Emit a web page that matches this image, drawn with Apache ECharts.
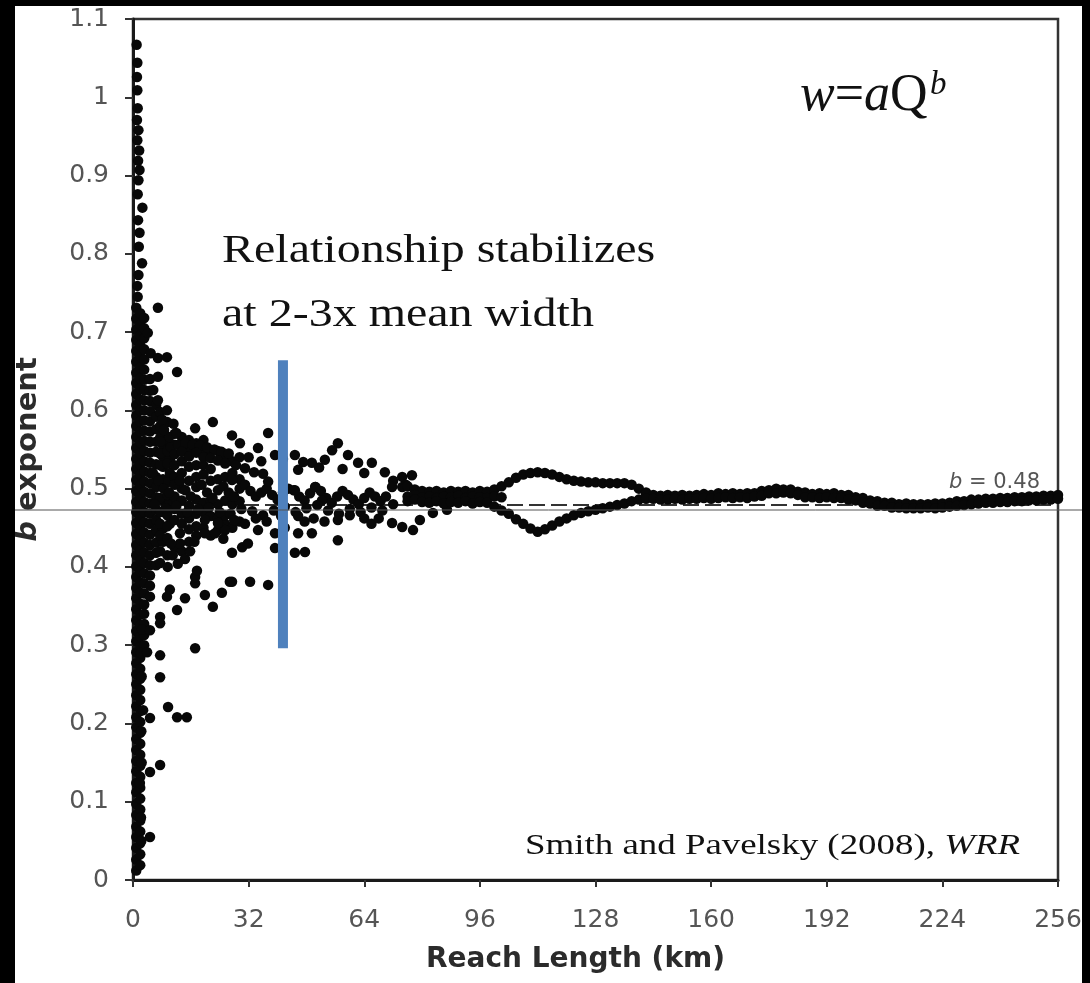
<!DOCTYPE html>
<html>
<head>
<meta charset="utf-8">
<script src="https://cdn.jsdelivr.net/npm/echarts@6/dist/echarts.min.js"></script>
<style>
html,body{margin:0;padding:0;background:#000;}
#chart{width:1090px;height:983px;}
</style>
</head>
<body>
<div id="chart"></div>
<script>
var xTicks = [0, 32, 64, 96, 128, 160, 192, 224, 256];
var yTicks = [0, 0.1, 0.2, 0.3, 0.4, 0.5, 0.6, 0.7, 0.8, 0.9, 1, 1.1];
var bFit = 0.48;
var overlayRule = 0.4727;          // thin grey rule drawn across the slide
var stabilize = {km: 41.5, from: 0.296, to: 0.664};

// the column hugging the y axis (very short reaches)
var spineInnerY = [0.012,0.026,0.041,0.055,0.068,0.083,0.097,0.112,0.124,0.139,0.152,0.166,0.18,0.195,0.208,
  0.222,0.236,0.25,0.263,0.277,0.291,0.305,0.318,0.332,0.346,0.36,0.373,0.387,0.401,0.415,0.428,0.442,0.456,
  0.47,0.483,0.497,0.511,0.525,0.538,0.552,0.566,0.58,0.593,0.607,0.621,0.635,0.648,0.662,0.676,0.69,0.703,
  0.717,0.731];
var spineOuterY = [0.019,0.033,0.047,0.062,0.076,0.09,0.104,0.118,0.132,0.146,0.16,0.174,0.188,0.202,0.216,
  0.23,0.243,0.257,0.27,0.284,0.298,0.311,0.325,0.339,0.353,0.367,0.38,0.394,0.408,0.421,0.435,0.449,0.463,
  0.476,0.49,0.504,0.518,0.531,0.545,0.559,0.573,0.586,0.6,0.614,0.628,0.641,0.655,0.669,0.683,0.696,0.71,0.724];
var spineTop = [
  [1.3,0.745],[1.2,0.759],[1.5,0.773],[2.5,0.788],[1.6,0.809],[1.8,0.827],[1.4,0.843],[2.6,0.859],
  [1.3,0.876],[1.5,0.894],[1.8,0.907],[1.4,0.919],[1.7,0.932],[1.2,0.945],[1.5,0.958],[1.1,0.971],
  [1.3,0.986],[1.2,1.009],[1.1,1.026],[1.2,1.044],[1.0,1.067]
];
var coreA_Y = [0.30,0.313,0.327,0.34,0.352,0.366,0.379,0.392,0.405,0.418,0.431,0.444,0.457,0.47,0.483,0.496,
  0.509,0.522,0.535,0.548,0.561,0.574,0.587,0.60,0.613,0.626,0.639,0.652,0.665,0.678,0.692,0.705,0.718];
var coreB_Y = [0.362,0.376,0.389,0.402,0.415,0.428,0.441,0.455,0.468,0.481,0.494,0.507,0.52,0.533,0.546,0.56,
  0.573,0.586,0.599,0.612,0.625,0.64];
var coreC_Y = [0.402,0.418,0.431,0.447,0.46,0.473,0.489,0.502,0.515,0.531,0.547,0.56,0.576,0.592,0.607];
var coreLoose = [
  [2.3,0.05],[2.2,0.08],[1.9,0.124],[2.4,0.15],[2.3,0.19],[2.8,0.217],[2.4,0.26],[2.2,0.29],[2.5,0.32],
  [8.3,0.432],[8.3,0.449],[8.3,0.47],[8.3,0.485],[8.3,0.512],[8.3,0.528],[8.3,0.541],[8.3,0.556],[8.3,0.571],
  [10.2,0.455],[10.2,0.482],[10.2,0.52],[10.2,0.538]
];
var fanDense = [
  [7.5,0.405],[7.5,0.42],[7.5,0.44],[7.5,0.455],[7.5,0.47],[7.5,0.488],[7.5,0.53],[7.5,0.545],[7.5,0.565],
  [7.5,0.58],[7.5,0.598],[9.5,0.415],[9.5,0.437],[9.5,0.452],[9.5,0.466],[9.5,0.492],[9.5,0.508],[9.5,0.532],
  [9.5,0.548],[9.5,0.562],[9.5,0.585],[11.5,0.425],[11.5,0.46],[11.5,0.474],[11.5,0.49],[11.5,0.515],
  [11.5,0.53],[11.5,0.556],[11.5,0.57],[13.5,0.42],[13.5,0.455],[13.5,0.468],[13.5,0.485],[13.5,0.5],
  [13.5,0.52],[13.5,0.535],[13.5,0.552],[13.5,0.566],[15.5,0.432],[15.5,0.462],[15.5,0.478],[15.5,0.51],
  [15.5,0.528],[15.5,0.552],[15.5,0.562],[17.5,0.44],[17.5,0.452],[17.5,0.468],[17.5,0.486],[17.5,0.515],
  [17.5,0.53],[17.5,0.558],[19.5,0.45],[19.5,0.47],[19.5,0.482],[19.5,0.518],[19.5,0.53],[19.5,0.55],
  [19.5,0.562],[21.5,0.44],[21.5,0.465],[21.5,0.485],[21.5,0.51],[21.5,0.525],[21.5,0.548],[23.5,0.447],
  [23.5,0.462],[23.5,0.48],[23.5,0.512],[23.5,0.548],[25.5,0.455],[25.5,0.466],[25.5,0.485],[25.5,0.515],
  [25.5,0.54],[27.5,0.45],[27.5,0.48],[27.5,0.49],[27.5,0.52],[27.5,0.535],[29.5,0.458],[29.5,0.484],
  [29.5,0.512],[29.5,0.54]
];
var fanUpper = [
  [4.1,0.699],[6.9,0.731],[4.9,0.673],[6.9,0.667],[9.4,0.668],[6.9,0.643],[12.2,0.649],[5.6,0.626],[6.9,0.613],
  [9.4,0.600],[8.1,0.588],[11.2,0.583],[17.2,0.577],[22.1,0.585],[27.4,0.568],[37.4,0.571],[29.6,0.558],[34.6,0.552],
  [39.3,0.543],[44.8,0.543],[56.7,0.558],[55.1,0.549],[59.5,0.543],[62.3,0.533],[66.1,0.533],[69.7,0.521],
  [49.5,0.533],[53.1,0.537],[45.7,0.524],[74.5,0.515],[77.2,0.517],[47.1,0.534],[41.5,0.538],[51.5,0.527],
  [10.5,0.553],[12.5,0.556],[14.5,0.558],[16.5,0.556],[18.5,0.555],[20.5,0.553],[22.5,0.550],[24.5,0.547],
  [26.5,0.545],[11.5,0.544],[13.5,0.547],[15.5,0.541],[17.5,0.546],[19.5,0.540],[21.5,0.539],[23.5,0.536],
  [25.5,0.532],[28.5,0.530],[31.0,0.526],[33.5,0.521],[36.0,0.519],[10.0,0.566],[12.0,0.571],[8.6,0.575],
  [7.6,0.560],[32.0,0.540],[35.5,0.535],[58.0,0.525],[64.0,0.520],[72.0,0.510],[75.5,0.505]
];
var fanMid = [
  [5.5,0.52],[7,0.51],[8.5,0.50],[10,0.495],[11.5,0.505],[13,0.51],[14.5,0.498],[16,0.49],[17.5,0.502],[19,0.505],
  [20.5,0.495],[22,0.488],[23.5,0.498],[25,0.503],[26.5,0.495],[28,0.49],[29.5,0.5],[31,0.505],[32.5,0.497],
  [34,0.49],[35.5,0.495],[37,0.5],[38.5,0.492],[40,0.486],[41.5,0.495],[43,0.5],[44.5,0.498],[46,0.49],
  [47.5,0.485],[49,0.494],[50.5,0.502],[52,0.497],[53.5,0.488],[55,0.482],[56.5,0.49],[58,0.497],[59.5,0.492],
  [61,0.486],[62.5,0.48],[64,0.488],[65.5,0.495],[67,0.49],[68.5,0.484],[70,0.49],[71.7,0.502],[74.5,0.502],
  [27.4,0.511],[37.4,0.509],[44.8,0.498],[50.4,0.502],[52.3,0.485],
  [6,0.48],[9,0.475],[12,0.478],[15,0.47],[18,0.474],[21,0.476],[24,0.47],[27,0.468],[30,0.474],[33,0.471],
  [36,0.466],[39,0.472],[42,0.477],[45,0.47],[48,0.475],[51,0.479],[54,0.472],[57,0.468],[60,0.474],[63,0.47],
  [66,0.476],[69,0.472],[72,0.48]
];
var fanLower = [
  [45.7,0.465],[47.5,0.458],[50,0.462],[53,0.458],[56.7,0.46],[60,0.466],[64,0.462],[56.7,0.434],[71.7,0.456],
  [74.5,0.451],[77.5,0.447],[79.4,0.46],[83,0.469],[86.9,0.473],[49.5,0.443],[45.7,0.443],[39.3,0.443],
  [34.6,0.447],[39.3,0.424],[44.8,0.418],[47.6,0.419],[27.4,0.418],[30.2,0.425],[31.8,0.43],[27.4,0.381],
  [32.4,0.381],[37.4,0.377],[24.6,0.367],[19.9,0.364],[22.1,0.349],[14.4,0.360],[12.2,0.345],[17.2,0.379],
  [17.2,0.387],[14.4,0.41],[12.4,0.404],[9.6,0.40],[19.9,0.443],[22.7,0.443],[25.5,0.447],[19.9,0.46],
  [23.5,0.456],[25,0.436],[13,0.443],[13,0.43],[15.8,0.42],[17.7,0.395],[26.8,0.381],[9.4,0.362],[10.2,0.371],
  [7.5,0.336],[7.5,0.328],[4.7,0.319],[17.2,0.296],[3.9,0.291],[7.5,0.287],[7.5,0.259],[9.7,0.221],[12.2,0.208],
  [14.9,0.208],[4.7,0.207],[7.5,0.147],[4.7,0.138],[4.7,0.055],[28,0.46],[31,0.455],[34,0.462],[37,0.458],
  [41,0.465],[42,0.45],[66,0.455],[68,0.462],[10.5,0.43],[11,0.415],[15.5,0.448],[17,0.432]
];

// the braided band 76-102 km before it splits
var braidX      = [76, 78, 80, 82, 84, 86, 88, 90, 92, 94, 96, 98, 100, 102];
var braidUpperY = [0.503, 0.499, 0.497, 0.496, 0.497, 0.495, 0.497, 0.496, 0.497, 0.495, 0.497, 0.496, 0.499, 0.503];
var braidMidY   = [0.490, 0.492, 0.489, 0.490, 0.488, 0.490, 0.489, 0.491, 0.488, 0.490, 0.489, 0.488, 0.490, 0.489];
var braidLowerY = [0.484, 0.486, 0.483, 0.482, 0.484, 0.481, 0.483, 0.482, 0.484, 0.481, 0.483, 0.482, 0.477, 0.472];

// the two branches that open around 110 km and close again
var tailX      = [104, 106, 108, 110, 112, 114, 116, 118, 120, 122, 124, 126, 128, 130, 132, 134, 136, 138, 140, 142];
var tailUpperY = [0.508, 0.514, 0.518, 0.520, 0.521, 0.520, 0.518, 0.515, 0.512, 0.510, 0.509, 0.508, 0.508,
                  0.507, 0.507, 0.507, 0.507, 0.505, 0.500, 0.495];
var tailLowerY = [0.468, 0.461, 0.455, 0.449, 0.445, 0.448, 0.453, 0.458, 0.462, 0.466, 0.469, 0.471, 0.473,
                  0.475, 0.477, 0.479, 0.481, 0.484, 0.486, 0.488];

// the settled band out to 256 km
var bandX = [142,144,146,148,150,152,154,156,158,160,162,164,166,168,170,172,174,176,178,180,182,184,186,188,
             190,192,194,196,198,200,202,204,206,208,210,212,214,216,218,220,222,224,226,228,230,232,234,236,
             238,240,242,244,246,248,250,252,254,256];
var bandUpperY = [0.493,0.492,0.491,0.492,0.491,0.492,0.491,0.492,0.493,0.492,0.494,0.493,0.494,0.493,0.494,
                  0.494,0.497,0.498,0.500,0.499,0.499,0.496,0.495,0.493,0.494,0.493,0.494,0.492,0.492,0.489,
                  0.488,0.485,0.484,0.482,0.482,0.480,0.481,0.480,0.480,0.480,0.481,0.481,0.482,0.484,0.484,
                  0.486,0.486,0.487,0.487,0.488,0.488,0.489,0.489,0.490,0.490,0.491,0.491,0.492];
var bandLowerY = [0.487,0.487,0.486,0.486,0.487,0.486,0.487,0.487,0.488,0.487,0.488,0.489,0.488,0.489,0.488,
                  0.490,0.491,0.494,0.494,0.495,0.494,0.492,0.489,0.489,0.488,0.489,0.488,0.488,0.486,0.485,
                  0.482,0.481,0.478,0.478,0.476,0.476,0.475,0.475,0.475,0.476,0.475,0.476,0.477,0.478,0.479,
                  0.480,0.481,0.482,0.482,0.483,0.483,0.484,0.484,0.485,0.485,0.486,0.486,0.487];

function zip(xs, ys) {
  return xs.map(function (x, i) { return [x, ys[i]]; });
}
function column(x, ys) {
  return ys.map(function (y) { return [x, y]; });
}

var points = [].concat(
  column(0.9, spineInnerY), column(2.0, spineOuterY), spineTop,
  column(3.1, coreA_Y), column(4.7, coreB_Y), column(6.4, coreC_Y), coreLoose,
  fanDense, fanUpper, fanMid, fanLower,
  zip(braidX, braidUpperY), zip(braidX, braidMidY), zip(braidX, braidLowerY),
  zip(tailX, tailUpperY), zip(tailX, tailLowerY),
  zip(bandX, bandUpperY), zip(bandX, bandLowerY));

var chart = echarts.init(document.getElementById('chart'));
var sans = 'DejaVu Sans';
var serif = 'Liberation Serif';

var option = {
  backgroundColor: '#fff',
  animation: false,
  grid: {
    left: 133, right: 32, top: 19, bottom: 103,
    show: true, borderColor: '#333', borderWidth: 2.5
  },
  xAxis: {
    type: 'value',
    min: xTicks[0], max: xTicks[xTicks.length - 1], interval: 32,
    axisLine: {show: true, lineStyle: {color: '#1a1a1a', width: 3}},
    axisTick: {show: true, length: 7, lineStyle: {color: '#333', width: 2}},
    axisLabel: {fontSize: 25, color: '#555', fontFamily: sans, margin: 28},
    splitLine: {show: false},
    name: 'Reach Length (km)',
    nameLocation: 'middle',
    nameGap: 66,
    nameTextStyle: {fontSize: 28, fontWeight: 'bold', color: '#2b2b2b', fontFamily: sans, padding: [0, 40, 0, 0]}
  },
  yAxis: {
    type: 'value',
    min: yTicks[0], max: yTicks[yTicks.length - 1], interval: 0.1,
    axisLine: {show: true, lineStyle: {color: '#1a1a1a', width: 3}},
    axisTick: {show: true, length: 8, lineStyle: {color: '#333', width: 2}},
    axisLabel: {
      fontSize: 25, color: '#555', fontFamily: sans, margin: 24,
      formatter: function (v) { return String(+v.toFixed(1)); }
    },
    splitLine: {show: false},
    name: '{i|b} exponent',
    nameLocation: 'middle',
    nameRotate: 90,
    nameGap: 90,
    nameTextStyle: {
      fontSize: 29, fontWeight: 'bold', color: '#2b2b2b', fontFamily: sans,
      rich: {i: {fontSize: 29, fontWeight: 'bold', fontStyle: 'italic', color: '#2b2b2b', fontFamily: sans}}
    }
  },
  series: [
    {
      type: 'scatter',
      data: points,
      symbol: 'circle',
      symbolSize: 10.5,
      itemStyle: {color: '#080808', opacity: 1},
      z: 3,
      markLine: {
        silent: true,
        symbol: 'none',
        z: 1,
        lineStyle: {color: '#333', width: 2, type: [16, 6]},
        data: [{yAxis: bFit}],
        label: {
          position: 'insideEndTop',
          distance: [18, 11],
          formatter: '{i|b} = ' + bFit,
          color: '#555', fontSize: 21, fontFamily: sans,
          rich: {i: {fontStyle: 'italic', color: '#555', fontSize: 21, fontFamily: sans}}
        }
      }
    },
    {
      type: 'line',
      data: [[stabilize.km, stabilize.from], [stabilize.km, stabilize.to]],
      symbol: 'none',
      lineStyle: {color: '#4f81bd', width: 10, cap: 'butt'},
      z: 5
    }
  ]
};
chart.setOption(option);

var ruleY = chart.convertToPixel({gridIndex: 0}, [0, overlayRule])[1];
chart.setOption({
  graphic: [
    {type: 'line', z: 50, silent: true, shape: {x1: 15, y1: ruleY, x2: 1082, y2: ruleY},
     style: {stroke: '#555', lineWidth: 1}},
    {type: 'text', x: 222, y: 251, scaleX: 1.2, z: 50,
     style: {text: 'Relationship stabilizes', font: '40px "' + serif + '"', fill: '#111', textVerticalAlign: 'middle'}},
    {type: 'text', x: 222, y: 315, scaleX: 1.2, z: 50,
     style: {text: 'at 2-3x mean width', font: '40px "' + serif + '"', fill: '#111', textVerticalAlign: 'middle'}},
    {type: 'text', x: 800, y: 96, z: 50,
     style: {
       text: '{i|w}{r|=}{i|a}{r|Q}',
       textVerticalAlign: 'middle',
       rich: {
         i: {font: 'italic 52px "' + serif + '"', fill: '#111'},
         r: {font: '52px "' + serif + '"', fill: '#111'}
       }
     }},
    {type: 'text', x: 930, y: 85, z: 50,
     style: {text: 'b', font: 'italic 33px "' + serif + '"', fill: '#111', textVerticalAlign: 'middle'}},
    {type: 'text', x: 1020, y: 846, scaleX: 1.23, z: 50,
     style: {
       text: '{r|Smith and Pavelsky (2008), }{i|WRR}',
       textAlign: 'right', textVerticalAlign: 'middle',
       rich: {
         i: {font: 'italic 30px "' + serif + '"', fill: '#111'},
         r: {font: '30px "' + serif + '"', fill: '#111'}
       }
     }},
    // black slide frame around the figure
    {type: 'rect', z: 100, silent: true, shape: {x: 0, y: 0, width: 15, height: 983}, style: {fill: '#000'}},
    {type: 'rect', z: 100, silent: true, shape: {x: 0, y: 0, width: 1090, height: 6}, style: {fill: '#000'}},
    {type: 'rect', z: 100, silent: true, shape: {x: 1082, y: 0, width: 8, height: 983}, style: {fill: '#000'}}
  ]
});
</script>
</body>
</html>
